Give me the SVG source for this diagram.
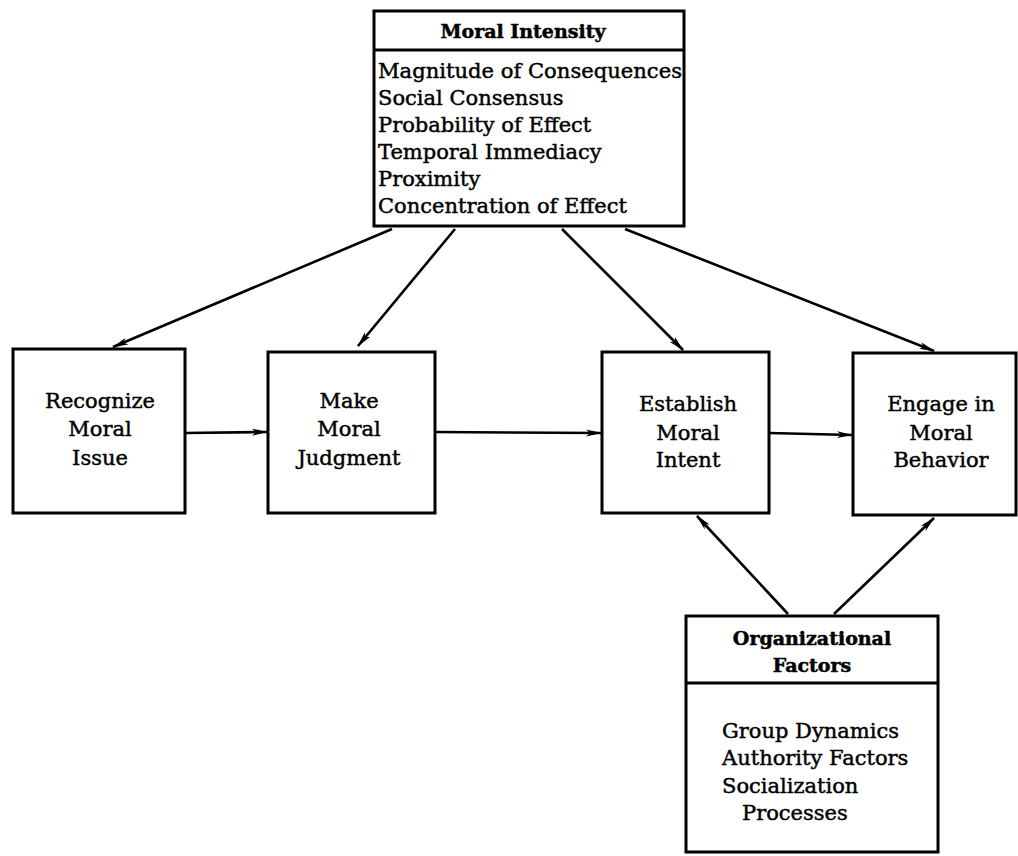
<svg xmlns="http://www.w3.org/2000/svg" width="1018" height="856" viewBox="0 0 1018 856">
  <style>
    .box { fill: #fff; stroke: #000; stroke-width: 3; }
    .rule { stroke: #000; stroke-width: 3; }
    .txt { font-family: "DejaVu Serif", "Liberation Serif", serif; font-size: 21px; fill: #000; stroke: #000; stroke-width: 0.45; }
    .mid { text-anchor: middle; }
    .head { font-family: "DejaVu Serif", "Liberation Serif", serif; font-size: 19px; font-weight: bold; fill: #000; stroke: #000; stroke-width: 0.5; text-anchor: middle; }
    .link { stroke: #000; stroke-width: 2.6; fill: none; marker-end: url(#tip); }
  </style>
  <defs>
    <marker id="tip" markerUnits="userSpaceOnUse" markerWidth="16" markerHeight="8" viewBox="0 0 16 8" refX="15" refY="4" orient="auto">
      <path d="M0,0.5 L16,4 L0,7.5 L4,4 z" fill="#000"/>
    </marker>
  </defs>
  <rect width="1018" height="856" fill="#fff"/>

  <!-- connectors -->
  <g id="connectors">
    <line class="link" x1="392" y1="229" x2="113" y2="347"/>
    <line class="link" x1="455" y1="229" x2="358" y2="346"/>
    <line class="link" x1="562" y1="229" x2="683" y2="350"/>
    <line class="link" x1="625" y1="229" x2="934" y2="351"/>
    <line class="link" x1="185" y1="433" x2="267" y2="432"/>
    <line class="link" x1="435" y1="432" x2="601" y2="433"/>
    <line class="link" x1="769" y1="433" x2="852" y2="435"/>
    <line class="link" x1="788" y1="614" x2="697" y2="516"/>
    <line class="link" x1="834" y1="614" x2="934" y2="518"/>
  </g>

  <!-- Moral Intensity -->
  <g id="moral-intensity">
    <rect class="box" x="374" y="11" width="310" height="215"/>
    <line class="rule" x1="374" y1="50" x2="684" y2="50"/>
    <text class="head" x="523" y="38">Moral Intensity</text>
    <text class="txt" x="378" y="78" textLength="304" lengthAdjust="spacingAndGlyphs">Magnitude of Consequences</text>
    <text class="txt" x="378" y="105">Social Consensus</text>
    <text class="txt" x="378" y="132">Probability of Effect</text>
    <text class="txt" x="378" y="159">Temporal Immediacy</text>
    <text class="txt" x="378" y="186">Proximity</text>
    <text class="txt" x="378" y="213">Concentration of Effect</text>
  </g>

  <!-- Recognize Moral Issue -->
  <g id="recognize">
    <rect class="box" x="13" y="349" width="172" height="164"/>
    <text class="txt mid" x="100" y="408">Recognize</text>
    <text class="txt mid" x="100" y="436">Moral</text>
    <text class="txt mid" x="100" y="465">Issue</text>
  </g>

  <!-- Make Moral Judgment -->
  <g id="judgment">
    <rect class="box" x="268" y="352" width="167" height="161"/>
    <text class="txt mid" x="349" y="408">Make</text>
    <text class="txt mid" x="349" y="436">Moral</text>
    <text class="txt mid" x="349" y="465">Judgment</text>
  </g>

  <!-- Establish Moral Intent -->
  <g id="intent">
    <rect class="box" x="602" y="352" width="167" height="161"/>
    <text class="txt mid" x="688" y="411">Establish</text>
    <text class="txt mid" x="688" y="440">Moral</text>
    <text class="txt mid" x="688" y="467">Intent</text>
  </g>

  <!-- Engage in Moral Behavior -->
  <g id="behavior">
    <rect class="box" x="853" y="353" width="163" height="162"/>
    <text class="txt mid" x="941" y="411">Engage in</text>
    <text class="txt mid" x="941" y="440">Moral</text>
    <text class="txt mid" x="941" y="467">Behavior</text>
  </g>

  <!-- Organizational Factors -->
  <g id="organizational">
    <rect class="box" x="686" y="616" width="252" height="236"/>
    <line class="rule" x1="686" y1="683" x2="938" y2="683"/>
    <text class="head" x="812" y="645">Organizational</text>
    <text class="head" x="812" y="672">Factors</text>
    <text class="txt" x="722" y="738">Group Dynamics</text>
    <text class="txt" x="722" y="765">Authority Factors</text>
    <text class="txt" x="722" y="793">Socialization</text>
    <text class="txt" x="742" y="820">Processes</text>
  </g>
</svg>
